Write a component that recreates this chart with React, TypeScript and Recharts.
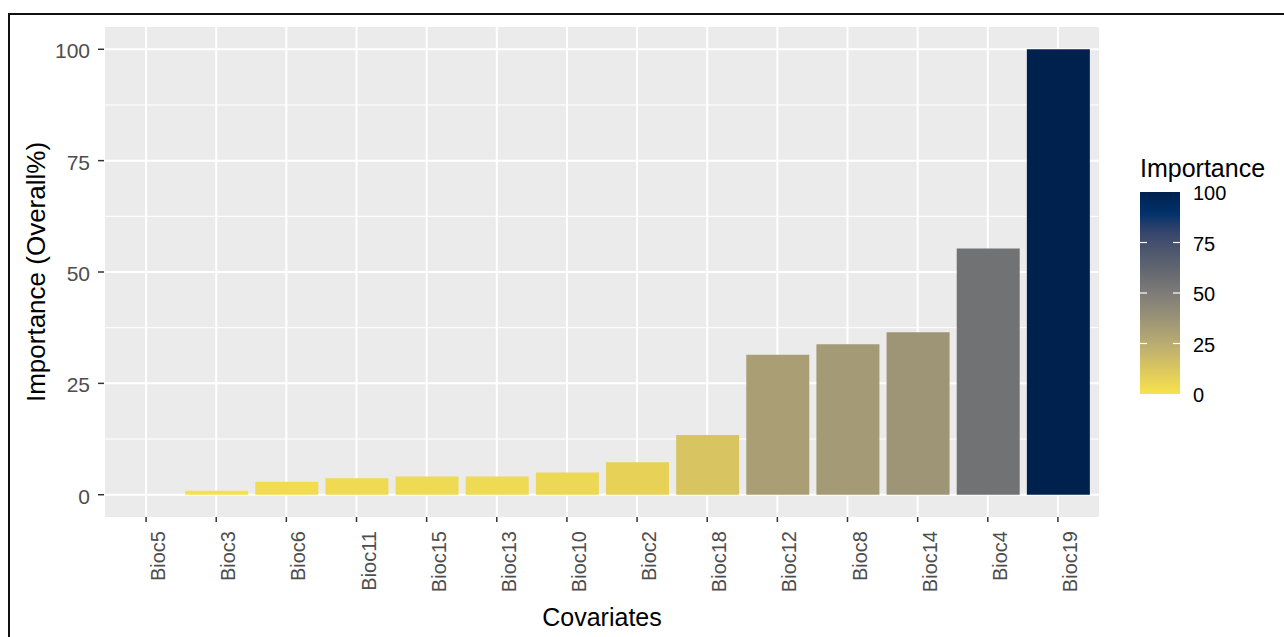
import React from 'react';
import { BarChart, Bar, Cell, XAxis, YAxis, CartesianGrid, Label } from 'recharts';

const FONT = '"Liberation Sans", Arial, sans-serif';

// covariates sorted by importance
const covariates = ['Bioc5', 'Bioc3', 'Bioc6', 'Bioc11', 'Bioc15', 'Bioc13', 'Bioc10', 'Bioc2', 'Bioc18', 'Bioc12', 'Bioc8', 'Bioc14', 'Bioc4', 'Bioc19'];
const importance = [0, 0.9, 2.9, 3.7, 4.1, 4.1, 5.0, 7.3, 13.4, 31.4, 33.8, 36.5, 55.3, 100];

const yTicks = [0, 25, 50, 75, 100];
const yMinor = [12.5, 37.5, 62.5, 87.5];
const legendTicks = [0, 25, 50, 75, 100];

// cividis, dark end first
const cividis = ['#00204D', '#00316A', '#35456C', '#4F586E', '#666970', '#7D7C78', '#948E77', '#ADA274', '#C6B66C', '#E1CC5B', '#F7E34D'];

const hex = (c: string) => [1, 3, 5].map((i) => parseInt(c.slice(i, i + 2), 16));

function fillFor(v: number) {
  // high importance -> dark
  const t = Math.min(1, Math.max(0, 1 - v / 100)) * (cividis.length - 1);
  const i = Math.min(cividis.length - 2, Math.floor(t));
  const f = t - i;
  const a = hex(cividis[i]);
  const b = hex(cividis[i + 1]);
  const rgb = a.map((x, k) => Math.round(x + (b[k] - x) * f));
  return `rgb(${rgb[0]},${rgb[1]},${rgb[2]})`;
}

const data = covariates.map((name, i) => ({ name, value: importance[i] }));

const XTick = (props: any) => {
  const { x, y, payload } = props;
  return (
    <text
      transform={`translate(${x + 19},${y + 7}) rotate(-90)`}
      textAnchor="end"
      fill="#4D4D4D"
      fontSize={20}
      fontFamily={FONT}
    >
      {payload.value}
    </text>
  );
};

const YTick = (props: any) => {
  const { x, y, payload } = props;
  return (
    <text x={x} y={y + 9} textAnchor="end" fill="#4D4D4D" fontSize={21} fontFamily={FONT}>
      {payload.value}
    </text>
  );
};

function ColorLegend() {
  const barX = 1140;
  const barTop = 192;
  const barH = 202;
  const yFor = (v: number) => barTop + barH * (1 - v / 100);
  return (
    <svg width={1284} height={637} style={{ position: 'absolute', left: 0, top: 0, pointerEvents: 'none' }}>
      <defs>
        <linearGradient id="imp-grad" x1="0" y1="0" x2="0" y2="1">
          {cividis.map((c, i) => (
            <stop key={i} offset={`${(i / (cividis.length - 1)) * 100}%`} stopColor={c} />
          ))}
        </linearGradient>
      </defs>
      <text x={barX} y={177} fontSize={25} fontFamily={FONT} fill="#000">Importance</text>
      <rect x={barX} y={barTop} width={40} height={barH} fill="url(#imp-grad)" />
      {legendTicks.map((v) => (
        <g key={v}>
          {v > 0 && v < 100 && (
            <>
              <line x1={barX} x2={barX + 7} y1={yFor(v)} y2={yFor(v)} stroke="#fff" strokeWidth={1.2} />
              <line x1={barX + 33} x2={barX + 40} y1={yFor(v)} y2={yFor(v)} stroke="#fff" strokeWidth={1.2} />
            </>
          )}
          <text x={barX + 53} y={yFor(v) + 8} fontSize={20} fontFamily={FONT} fill="#000">{v}</text>
        </g>
      ))}
    </svg>
  );
}

export default function App() {
  return (
    <div style={{ position: 'absolute', left: 0, top: 0, width: 1284, height: 637, background: '#fff', overflow: 'hidden' }}>
      <div style={{ position: 'absolute', left: 8, top: 13, width: 1300, height: 700, border: '2px solid #111' }} />
      <div style={{ position: 'absolute', left: 0, top: 0 }}>
        <BarChart width={1284} height={637} data={data} margin={{ top: 27, right: 184, bottom: 0, left: 0 }}>
          <CartesianGrid fill="#EBEBEB" stroke="#FFFFFF" strokeWidth={1} vertical={false} horizontalValues={yMinor} />
          <CartesianGrid stroke="#FFFFFF" strokeWidth={2} horizontalValues={yTicks} />
          <XAxis
            dataKey="name"
            type="category"
            interval={0}
            padding={{ left: 7, right: 7 }}
            height={120}
            axisLine={false}
            tickSize={5}
            tickLine={{ stroke: '#333333', strokeWidth: 1.5 }}
            tick={<XTick />}
          >
            <Label
              content={(p: any) => {
                const vb = p.viewBox || { x: 104, y: 517, width: 996 };
                return (
                  <text x={vb.x + vb.width / 2} y={626} textAnchor="middle" fontSize={25} fontFamily={FONT} fill="#000">
                    Covariates
                  </text>
                );
              }}
            />
          </XAxis>
          <YAxis
            type="number"
            domain={[-5, 105]}
            ticks={yTicks}
            interval={0}
            width={104}
            axisLine={false}
            tickSize={6}
            tickMargin={8}
            tickLine={{ stroke: '#333333', strokeWidth: 1.5 }}
            tick={<YTick />}
          >
            <Label
              content={(p: any) => {
                const vb = p.viewBox || { x: 0, y: 27, height: 490 };
                const cy = vb.y + vb.height / 2;
                return (
                  <text transform={`translate(45,${cy}) rotate(-90)`} textAnchor="middle" fontSize={26} fontFamily={FONT} fill="#000">
                    Importance (Overall%)
                  </text>
                );
              }}
            />
          </YAxis>
          <Bar dataKey="value" barSize={63} isAnimationActive={false}>
            {data.map((d) => (
              <Cell key={d.name} fill={fillFor(d.value)} />
            ))}
          </Bar>
        </BarChart>
      </div>
      <ColorLegend />
    </div>
  );
}
